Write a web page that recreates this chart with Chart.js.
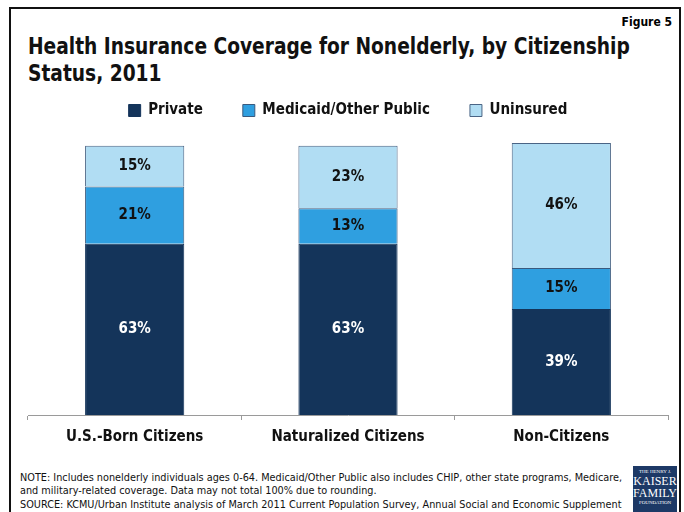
<!DOCTYPE html>
<html>
<head>
<meta charset="utf-8">
<script src="https://cdn.jsdelivr.net/npm/chart.js@4.4.0/dist/chart.umd.min.js"></script>
<style>
  body { margin: 0; background: #fff; width: 684px; height: 512px; overflow: hidden; position: relative; font-family: "DejaVu Sans Condensed", "DejaVu Sans", sans-serif; }
  #frame { position: absolute; left: 9px; top: 7px; width: 668px; height: 520px; border: 2px solid #111; }
  #fig { position: absolute; right: 12px; top: 15px; font-weight: bold; font-size: 12px; }
  #title { position: absolute; left: 28px; top: 33px; font-weight: bold; font-size: 23px; line-height: 27px; color: #111; white-space: nowrap; transform: scaleX(0.9); transform-origin: left top; }
  #chartBox { position: absolute; left: 0; top: 63px; width: 684px; height: 397px; }
  #notes { position: absolute; left: 20px; top: 471px; font-size: 10.8px; line-height: 13.4px; color: #111; white-space: nowrap; }
  #logo { position: absolute; left: 633px; top: 466px; width: 44px; height: 46px; background: #1d3966; color: #fff; font-family: "Liberation Serif", serif; text-align: center; }
  #logo .s { font-size: 5px; line-height: 7px; padding-top: 2px; }
  #logo .b { font-size: 12px; line-height: 12px; }
</style>
</head>
<body>
<div id="frame"></div>
<div id="fig">Figure 5</div>
<div id="title">Health Insurance Coverage for Nonelderly, by Citizenship<br>Status, 2011</div>
<div id="chartBox"><canvas id="myChart"></canvas></div>
<div id="notes">NOTE: Includes nonelderly individuals ages 0-64. Medicaid/Other Public also includes CHIP, other state programs, Medicare,<br>and military-related coverage. Data may not total 100% due to rounding.<br>SOURCE: KCMU/Urban Institute analysis of March 2011 Current Population Survey, Annual Social and Economic Supplement</div>
<div id="logo"><div class="s">THE HENRY J.</div><div class="b">KAISER</div><div class="b">FAMILY</div><div class="s" style="padding-top:0">FOUNDATION</div></div>
<script>
// categories et valeurs
var categories = ['U.S.-Born Citizens', 'Naturalized Citizens', 'Non-Citizens'];
var privateVals = [63, 63, 39];
var medicaidVals = [21, 13, 15];
var uninsuredVals = [15, 23, 46];

var FONT = '"DejaVu Sans Condensed", "DejaVu Sans", sans-serif';

//plugin pour ecrire les pourcentages dans les barres
var valueLabels = {
  id: 'valueLabels',
  afterDatasetsDraw: function(chart) {
    var ctx = chart.ctx;
    ctx.save();
    ctx.font = 'bold 15px ' + FONT;
    ctx.textAlign = 'center';
    ctx.textBaseline = 'middle';
    chart.data.datasets.forEach(function(ds, i) {
      var meta = chart.getDatasetMeta(i);
      meta.data.forEach(function(bar, j) {
        ctx.fillStyle = ds.labelColor;
        ctx.fillText(ds.data[j] + '%', bar.x, (bar.y + bar.base) / 2);
      });
    });
    ctx.restore();
  }
};

//plugin pour laisser de l'espace sous la legende
var legendGap = {
  id: 'legendGap',
  beforeLayout: function(chart) {
    var lg = chart.legend;
    if (lg && !lg._gapPatched) {
      var fit = lg.fit;
      lg.fit = function() {
        fit.call(this);
        this.height += 15;
      };
      lg._gapPatched = true;
    }
  }
};

var data = {
  labels: categories,
  datasets: [
    {
      label: 'Private',
      data: privateVals,
      backgroundColor: '#14345a',
      borderColor: '#14345a',
      borderWidth: 1,
      labelColor: '#ffffff'
    },
    {
      label: 'Medicaid/Other Public',
      data: medicaidVals,
      backgroundColor: '#2f9fe0',
      borderColor: '#3a5a7e',
      borderWidth: 1,
      labelColor: '#111111'
    },
    {
      label: 'Uninsured',
      data: uninsuredVals,
      backgroundColor: '#b1ddf3',
      borderColor: '#4a6485',
      borderWidth: 1,
      labelColor: '#111111'
    }
  ]
};

var config = {
  type: 'bar',
  data: data,
  options: {
    responsive: true,
    maintainAspectRatio: false,
    animation: false,
    barPercentage: 0.465,
    categoryPercentage: 1,
    layout: { padding: { left: 28, right: 16, top: 0, bottom: 6 } },
    plugins: {
      legend: {
        position: 'top',
        labels: {
          boxWidth: 12,
          boxHeight: 12,
          padding: 40,
          color: '#111',
          font: { family: FONT, size: 15, weight: 'bold' }
        }
      },
      tooltip: { enabled: false }
    },
    scales: {
      x: {
        stacked: true,
        grid: { offset: true, drawOnChartArea: false, drawTicks: true, tickLength: 5, color: '#9a9a9a' },
        border: { color: '#9a9a9a' },
        ticks: { color: '#111', padding: 8, font: { family: FONT, size: 15, weight: 'bold' } }
      },
      y: {
        stacked: true,
        display: false,
        min: 0,
        max: 100
      }
    }
  },
  plugins: [valueLabels, legendGap]
};

const myChart = new Chart(document.getElementById('myChart'), config);
</script>
</body>
</html>
